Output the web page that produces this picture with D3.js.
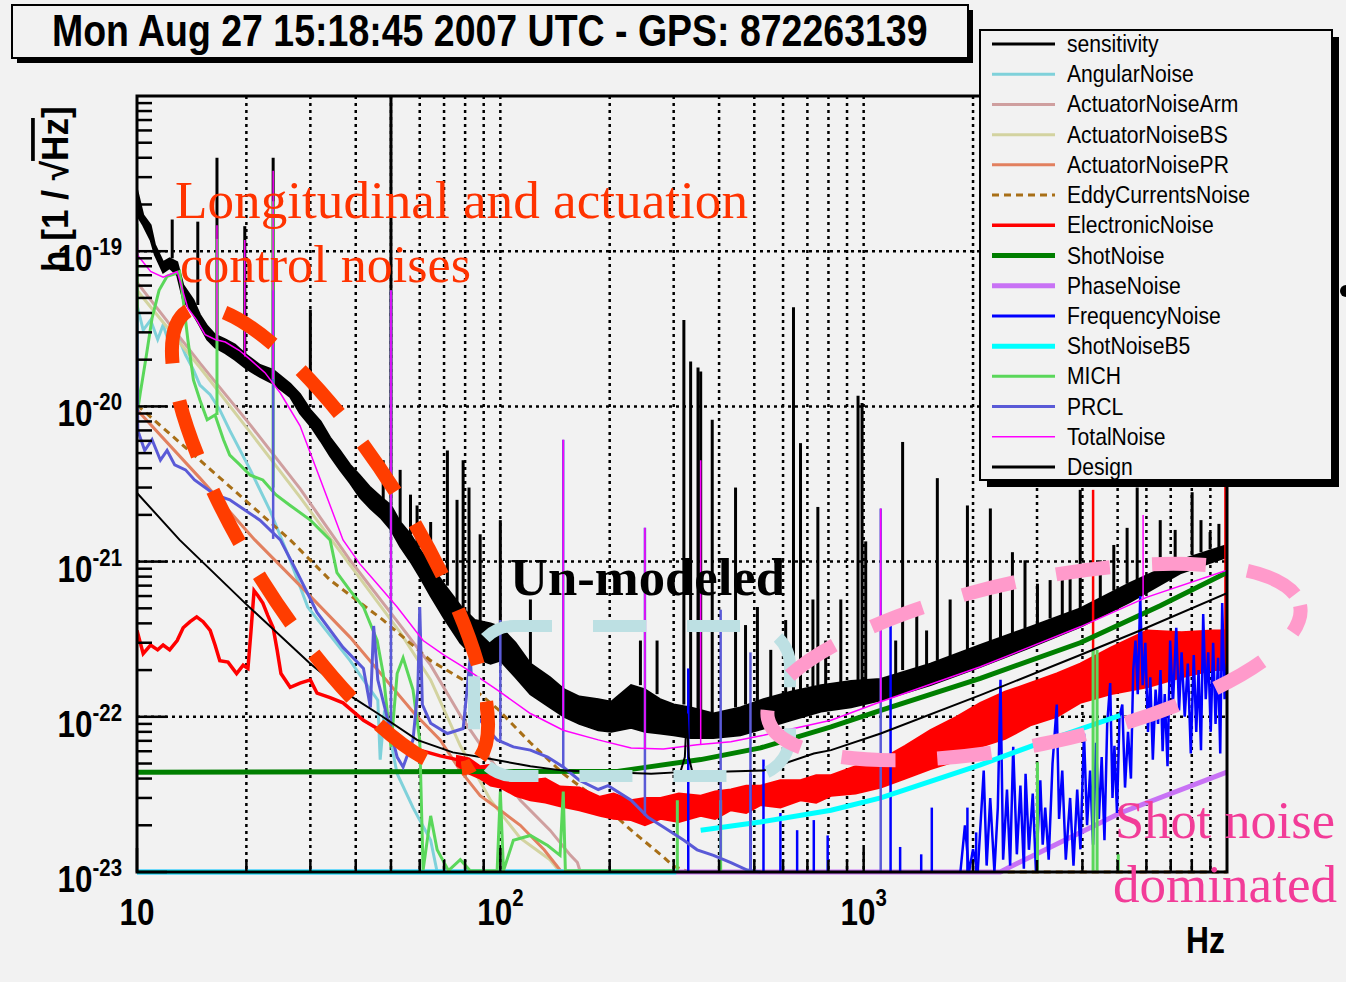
<!DOCTYPE html>
<html>
<head>
<meta charset="utf-8">
<script src="https://cdn.jsdelivr.net/npm/d3@7"></script>
<style>
  body { margin: 0; background: #f2f2f2; }
  svg { display: block; }
</style>
</head>
<body>
<div id="chart"></div>
<script>
// ---- data: [Hz, h] or [Hz, low, high] ----
const sensitivity = [
  [10, 1.71e-19, 2.5e-19], [10.4, 1.47e-19, 1.71e-19], [10.9, 1.18e-19, 1.47e-19], [11.2, 9.5e-20, 1.1e-19],
  [11.8, 7.3e-20, 8.5e-20], [12.3, 7.8e-20, 9.0e-20], [12.9, 7.0e-20, 8.5e-20], [13.4, 4.85e-20, 6.05e-20],
  [14.3, 3.9e-20, 4.85e-20], [14.9, 3.3e-20, 3.9e-20], [15.6, 2.7e-20, 3.3e-20], [16.4, 2.4e-20, 2.9e-20],
  [17.5, 2.2e-20, 2.7e-20], [18.6, 2.0e-20, 2.5e-20], [20, 1.75e-20, 2.15e-20], [21.8, 1.55e-20, 1.85e-20],
  [23.7, 1.4e-20, 1.72e-20], [26.4, 1.15e-20, 1.4e-20], [28.1, 9.0e-21, 1.2e-20], [30, 7.5e-21, 9.5e-21],
  [32, 6.0e-21, 8.0e-21], [34, 4.8e-21, 6.3e-21], [36.2, 3.9e-21, 5.2e-21], [38.6, 3.2e-21, 4.2e-21],
  [41, 2.6e-21, 3.6e-21], [43.9, 2.2e-21, 3.0e-21], [47, 1.9e-21, 2.6e-21], [50, 1.6e-21, 2.3e-21],
  [53, 1.25e-21, 1.8e-21], [56.6, 1.0e-21, 1.5e-21], [60, 8.0e-22, 1.2e-21], [64.3, 6.0e-22, 9.5e-22],
  [70.5, 4.2e-22, 7.0e-22], [77.6, 3.0e-22, 5.2e-22], [85, 2.4e-22, 4.2e-22], [94, 2.2e-22, 4.0e-22],
  [100, 2.3e-22, 3.8e-22], [110, 1.8e-22, 3.0e-22], [121, 1.4e-22, 2.2e-22], [137, 1.15e-22, 1.8e-22],
  [150, 1.0e-22, 1.5e-22], [165, 9.0e-23, 1.35e-22], [186, 8.2e-23, 1.3e-22], [202, 8.0e-23, 1.25e-22],
  [229, 8.5e-23, 1.6e-22], [250, 8.0e-23, 1.5e-22], [275, 7.8e-23, 1.3e-22], [300, 7.6e-23, 1.2e-22],
  [334, 7.3e-23, 1.15e-22], [386, 7.3e-23, 1.05e-22], [458, 7.6e-23, 1.15e-22], [530, 8.4e-23, 1.3e-22],
  [630, 9.5e-23, 1.45e-22], [763, 1.08e-22, 1.6e-22], [923, 1.15e-22, 1.7e-22], [1114, 1.28e-22, 1.75e-22],
  [1527, 1.6e-22, 2.2e-22], [2095, 2.1e-22, 2.9e-22], [2875, 2.8e-22, 3.8e-22], [3945, 3.8e-22, 5.0e-22],
  [5414, 5.5e-22, 7.3e-22], [7431, 8.4e-22, 1.02e-21], [10000, 1.07e-21, 1.28e-21]
];
// vertical lines: [Hz, from, to]
const sensitivitySpikes = [
  [12.5, 9.0e-20, 1.6e-19], [14.7, 4.5e-20, 1.55e-19], [16.6, 2.9e-20, 4.0e-19], [19.8, 2.2e-20, 1.45e-19],
  [23.7, 1.72e-20, 4.0e-19], [30, 1.1e-20, 4.2e-20], [50, 2.3e-21, 1e-18], [47.6, 2.5e-21, 4.5e-21],
  [53, 1.8e-21, 3.9e-21], [56.6, 1.5e-21, 2.7e-21], [59, 1.2e-21, 2.3e-21], [64.3, 9.5e-22, 1.8e-21],
  [71.5, 7.0e-22, 5.2e-21], [76, 5.5e-22, 2.5e-21], [79, 5.0e-22, 4.5e-21], [82, 4.5e-22, 3.0e-21],
  [88, 4.0e-22, 1.5e-21], [100, 3.8e-22, 1.85e-21], [121, 2.2e-22, 5.7e-22],
  [243, 1.6e-22, 3.1e-22], [270, 1.4e-22, 3.1e-22],
  [320, 1.2e-22, 3.6e-20], [334, 1.15e-22, 1.95e-20], [350, 1.1e-22, 1.78e-20], [356, 1.1e-22, 1.68e-20],
  [383, 1.05e-22, 8.2e-21], [444, 1.15e-22, 3.0e-21], [473, 1.2e-22, 3.9e-22], [510, 1.25e-22, 5.1e-22],
  [555, 1.3e-22, 2.7e-22], [610, 1.4e-22, 4.2e-22], [641, 1.45e-22, 4.35e-20], [670, 1.45e-22, 5.8e-21],
  [725, 1.55e-22, 5.7e-22], [748, 1.6e-22, 2.25e-21], [786, 1.6e-22, 3.1e-22], [865, 1.65e-22, 5.7e-22],
  [965, 1.7e-22, 1.17e-20], [990, 1.7e-22, 1.05e-20], [1013, 1.72e-22, 1.35e-21], [1225, 1.8e-22, 3.1e-22],
  [1280, 2.0e-22, 5.9e-21], [1400, 2.0e-22, 4.9e-22], [1490, 2.15e-22, 3.6e-22], [1595, 2.3e-22, 3.45e-21],
  [1730, 2.4e-22, 5.7e-22], [1930, 2.7e-22, 2.3e-21], [2232, 3.0e-22, 2.2e-21], [2380, 3.2e-22, 6.5e-22],
  [2567, 3.4e-22, 1.15e-21], [2780, 3.7e-22, 1.02e-21], [3008, 3.9e-22, 7.2e-22], [3260, 4.3e-22, 7.6e-22],
  [3521, 4.5e-22, 7.6e-22], [3700, 4.7e-22, 8.2e-22], [3945, 5.0e-22, 2.9e-21], [4480, 5.8e-22, 1.02e-21],
  [4880, 6.5e-22, 1.28e-21], [5310, 7.2e-22, 1.65e-21], [5660, 7.6e-22, 3.0e-21], [6550, 8.8e-22, 1.85e-21],
  [7200, 9.8e-22, 1.6e-21], [8017, 1.1e-21, 2.8e-21], [8480, 1.15e-21, 1.85e-21], [8985, 1.2e-21, 1.55e-21],
  [9500, 1.22e-21, 1.75e-21]
];
const angularNoise = [
  [10, 4.5e-20], [10.4, 3.1e-20], [10.9, 3.6e-20], [11.4, 2.7e-20], [11.8, 3.35e-20], [12.3, 2.5e-20],
  [12.9, 2.9e-20], [13.6, 2.15e-20], [14.3, 1.72e-20], [14.9, 1.37e-20], [15.9, 1.19e-20], [16.9, 9.5e-21],
  [18.0, 7.0e-21], [20.5, 3.9e-21], [23.2, 2.15e-21], [26.4, 1.02e-21], [29.5, 5.1e-22], [34, 3.35e-22],
  [38.6, 2.3e-22], [42, 1.73e-22], [46, 1.28e-22], [46.7, 5.3e-23], [48, 1.1e-22], [52, 4.3e-23],
  [57.5, 2.6e-23], [64.3, 1.6e-23], [67, 9.8e-24], [100, 9e-24]
];
const actuatorArm = [
  [10, 6.3e-20], [14.9, 1.9e-20], [20.5, 7.6e-21], [28.1, 2.95e-21], [38.6, 1.02e-21], [53, 3.9e-22],
  [64.3, 2.15e-22], [77.6, 1.02e-22], [94, 5.3e-23], [113.5, 2.9e-23], [137, 1.86e-23], [156, 1.28e-23],
  [163, 1.15e-23], [166, 9e-24]
];
const actuatorBS = [
  [10, 5.6e-20], [14.9, 1.78e-20], [20.5, 6.8e-21], [28.1, 2.6e-21], [38.6, 9.5e-22], [53, 3.5e-22],
  [64.3, 1.73e-22], [77.6, 6.5e-23], [94, 2.9e-23], [113.5, 1.65e-23], [137, 1.2e-23], [146, 9e-24]
];
const actuatorPR = [
  [10, 9.5e-21], [14.9, 3.45e-21], [21.1, 1.38e-21], [28.1, 7.0e-22], [38.6, 3.25e-22], [58, 1.05e-22],
  [68.3, 7.1e-23], [77.6, 4.5e-23], [88, 3.1e-23], [100, 2.5e-23], [113.5, 2.0e-23], [132, 1.39e-23],
  [146, 1.03e-23], [150, 9e-24]
];
const eddyCurrents = [
  [10, 1.02e-20], [14.9, 4.5e-21], [26.4, 1.38e-21], [34, 7.6e-22], [47.6, 4.2e-22], [64.3, 2.3e-22],
  [79, 1.73e-22], [98, 1.13e-22], [121, 6.8e-23], [149, 4.3e-23], [186, 2.9e-23], [229, 1.86e-23],
  [281, 1.25e-23], [300, 1.09e-23], [330, 9e-24], [10000, 9e-24]
];
const electronicLow = [
  [10, 3.6e-22], [10.4, 2.55e-22], [10.9, 2.9e-22], [11.4, 2.7e-22], [11.8, 2.9e-22], [12.3, 2.7e-22],
  [12.9, 3.1e-22], [13.4, 3.75e-22], [14.0, 4.1e-22], [14.6, 4.4e-22], [15.2, 4.1e-22], [15.9, 3.6e-22],
  [16.4, 2.9e-22], [16.9, 2.3e-22], [17.8, 2.25e-22], [18.8, 1.9e-22], [19.6, 2.15e-22], [20.2, 2.05e-22],
  [20.6, 3.6e-22], [21.0, 6.5e-22], [21.5, 6.05e-22], [22.2, 5.4e-22], [22.9, 4.5e-22], [23.7, 3.75e-22],
  [24.3, 2.7e-22], [24.9, 1.9e-22], [26.4, 1.55e-22], [28.1, 1.65e-22], [30, 1.73e-22], [31.3, 1.42e-22],
  [34, 1.33e-22], [36.9, 1.23e-22], [42, 9.5e-23], [46.7, 8.2e-23], [52, 7.1e-23], [60, 6.1e-23],
  [68.3, 5.6e-23], [76, 5.3e-23]
];
const electronicBand = [
  [76, 4.85e-23, 5.6e-23], [82, 4.3e-23, 5.4e-23], [88, 4.0e-23, 4.8e-23], [94, 3.6e-23, 4.9e-23],
  [100, 3.5e-23, 4.4e-23], [110, 3.1e-23, 4.4e-23], [121, 2.9e-23, 3.9e-23], [133, 2.8e-23, 4.0e-23],
  [146, 2.65e-23, 3.55e-23], [165, 2.5e-23, 3.5e-23], [188, 2.3e-23, 3.05e-23], [205, 2.2e-23, 3.2e-23],
  [229, 2.16e-23, 2.9e-23], [250, 2.0e-23, 3.0e-23], [276, 2.2e-23, 3.0e-23], [310, 2.1e-23, 3.2e-23],
  [356, 2.3e-23, 3.1e-23], [390, 2.2e-23, 3.3e-23], [431, 2.5e-23, 3.4e-23], [475, 2.4e-23, 3.6e-23],
  [520, 2.7e-23, 3.6e-23], [590, 2.6e-23, 3.9e-23], [670, 2.9e-23, 3.9e-23], [740, 2.8e-23, 4.2e-23],
  [813, 3.1e-23, 4.2e-23], [950, 3.2e-23, 4.8e-23], [1114, 3.5e-23, 5.3e-23], [1300, 4.0e-23, 6.5e-23],
  [1527, 4.6e-23, 8.2e-23], [1800, 5.2e-23, 1.0e-22], [2095, 6.4e-23, 1.23e-22], [2450, 7.2e-23, 1.45e-22],
  [2875, 8.8e-23, 1.65e-22], [3400, 1.0e-22, 1.9e-22], [3945, 1.23e-22, 2.2e-22], [4800, 1.4e-22, 2.8e-22],
  [6027, 1.55e-22, 3.6e-22], [7500, 1.8e-22, 3.5e-22], [9160, 2.0e-22, 3.6e-22], [10000, 2.0e-22, 3.6e-22]
];
const electronicSpikes = [[4280, 2.2e-22, 2.9e-21], [9900, 3.6e-22, 3.36e-21]];
const shotNoise = [
  [10, 4.4e-23], [210, 4.45e-23], [356, 5.3e-23], [520, 6.3e-23], [813, 8.6e-23], [1114, 1.1e-22],
  [2095, 1.77e-22], [3945, 3.0e-22], [6547, 5.2e-22], [10000, 8.5e-22]
];
const phaseNoise = [[10, 9e-24], [2378, 9e-24], [2533, 1.08e-23], [5082, 2.4e-23], [10000, 4.4e-23]];
const frequencyNoise = [
  [1846, 9e-24], [1900, 2.0e-23], [1950, 9e-24], [2000, 1.4e-23], [2060, 9e-24], [2140, 4.5e-23],
  [2180, 1.1e-23], [2230, 3.0e-23], [2290, 9e-24], [2340, 2.6e-23], [2380, 1.73e-22], [2420, 1.2e-23],
  [2480, 3.4e-23], [2530, 1.1e-23], [2580, 6.4e-23], [2640, 1.3e-23], [2700, 3.6e-23], [2760, 1.05e-23],
  [2790, 4.3e-23], [2850, 1.39e-23], [2920, 3.2e-23], [2980, 9e-24], [3063, 3.9e-23], [3110, 1.5e-23],
  [3160, 2.6e-23], [3230, 1.2e-23], [3310, 5.0e-23], [3400, 1.2e-22], [3450, 2.2e-23], [3520, 4.5e-23],
  [3600, 1.2e-23], [3700, 3.0e-23], [3780, 1.1e-23], [3870, 3.4e-23], [3950, 1.4e-23], [4040, 7.8e-23],
  [4120, 2.0e-23], [4200, 4.5e-23], [4280, 1.5e-23], [4360, 6.8e-23], [4440, 2.2e-23], [4520, 5.5e-23],
  [4600, 1.6e-23], [4680, 9.0e-23], [4770, 1.65e-22], [4840, 3.0e-23], [4900, 6.5e-23], [4980, 2.4e-23],
  [5060, 1.0e-22], [5150, 1.2e-22], [5240, 3.5e-23], [5340, 8.0e-23], [5440, 4.0e-23], [5520, 2.0e-22],
  [5600, 3.1e-22], [5680, 1.4e-22], [5770, 6.0e-22], [5860, 1.6e-22], [5960, 3.0e-22], [6060, 8.0e-23],
  [6150, 1.8e-22], [6250, 5.3e-23], [6360, 1.5e-22], [6460, 9.0e-23], [6560, 2.0e-22], [6650, 6.0e-23],
  [6740, 1.4e-22], [6860, 4.8e-23], [6975, 3.1e-22], [7100, 1.2e-22], [7250, 3.75e-22], [7380, 1.1e-22],
  [7500, 2.6e-22], [7650, 1.0e-22], [7800, 2.2e-22], [7950, 5.8e-23], [8100, 2.5e-22], [8230, 8.0e-23],
  [8350, 2.0e-22], [8480, 6.1e-23], [8600, 4.6e-22], [8740, 1.3e-22], [8880, 2.6e-22], [9020, 8.0e-23],
  [9160, 3.0e-22], [9300, 9.0e-23], [9450, 2.4e-22], [9580, 5.8e-23], [9700, 5.4e-22], [9850, 1.3e-22],
  [10000, 2.2e-22]
];
const frequencySpikes = [
  [329, 9e-24, 2.05e-22], [488, 9e-24, 4.3e-23], [530, 9e-24, 5.3e-23], [590, 9e-24, 2.4e-23],
  [656, 9e-24, 1.86e-23], [729, 9e-24, 2.16e-23], [796, 9e-24, 1.72e-23], [1186, 9e-24, 4.2e-22],
  [1260, 9e-24, 1.45e-23], [1440, 9e-24, 1.3e-23], [1540, 9e-24, 2.6e-23], [1930, 9e-24, 2.6e-23],
  [2040, 9e-24, 1.8e-23]
];
const shotNoiseB5 = [
  [10, 9.9e-24], [305, 9.9e-24], [330, null], [356, 1.86e-23], [520, 2.1e-23], [813, 2.5e-23],
  [1114, 3.0e-23], [2095, 4.9e-23], [3063, 6.8e-23], [5082, 1.02e-22]
];
const mich = [
  [10, 1.5e-19], [10.05, 9.5e-21], [10.2, 1.2e-20], [10.6, 2.1e-20], [11.0, 3.7e-20], [11.5, 5.6e-20],
  [12.1, 6.9e-20], [12.6, 7.1e-20], [13.1, 7.4e-20], [13.4, 4.85e-20], [13.8, 2.7e-20], [14.3, 1.48e-20],
  [14.9, 1.1e-20], [15.6, 8.2e-21], [16.4, 8.8e-21], [17.3, 6.1e-21], [18.0, 4.85e-21], [19.2, 4.2e-21],
  [20.5, 3.6e-21], [22.2, 3.36e-21], [24.1, 2.7e-21], [26.4, 2.3e-21], [30, 1.85e-21], [34, 1.38e-21],
  [35.5, 8.5e-22], [38.6, 6.5e-22], [42, 5.1e-22], [45.8, 3.1e-22], [47.6, 1.9e-22], [50, 6.4e-23],
  [52, 1.9e-22], [54, 2.4e-22], [57.5, 1.49e-22], [60, 7.1e-23], [61.3, 1.03e-23], [64.3, 2.3e-23],
  [67, 1.39e-23], [72, 1.02e-23], [77.6, 1.2e-23], [82.6, 1.02e-23], [98, 1.02e-23], [100, 3.3e-23],
  [102, 1.02e-23], [108.6, 1.6e-23], [121, 1.72e-23], [135, 1.48e-23], [146, 1.28e-23], [149, 3.3e-23],
  [151, 1.02e-23], [300, 1.02e-23]
];
const michSpikes = [
  [16.6, 8.8e-21, 1.2e-19], [23.7, 3.0e-21, 2.1e-19], [307, 1.02e-23, 2.9e-23], [404, 1.02e-23, 2.9e-23],
  [3008, 1.02e-23, 5.1e-23], [4280, 1.02e-23, 2.7e-22], [4390, 1.02e-23, 2.7e-22], [5020, 1.02e-23, 1.3e-23]
];
const prcl = [
  [10, 3.9e-20], [10.05, 7.0e-21], [10.5, 5.2e-21], [11.0, 6.1e-21], [11.6, 4.5e-21], [12.1, 5.2e-21],
  [12.7, 4.2e-21], [13.6, 3.9e-21], [14.4, 3.36e-21], [15.4, 3.0e-21], [16.4, 2.7e-21], [18.0, 2.5e-21],
  [19.8, 2.15e-21], [21.8, 1.85e-21], [24.8, 1.38e-21], [27.6, 8.5e-22], [31.3, 4.7e-22], [36.9, 2.8e-22],
  [42, 2.05e-22], [43.9, 1.15e-22], [44.8, 3.85e-22], [46, 1.73e-22], [52, 5.5e-23], [54, 4.75e-23],
  [57.5, 7.1e-23], [59.3, 1.5e-22], [60, 5.1e-22], [61, 1.2e-22], [64.3, 9.1e-23], [71.5, 7.8e-23],
  [79, 8.4e-23], [82.6, 2.4e-22], [85, 8.8e-23], [88, 9.5e-23], [98, 7.1e-23], [108.6, 6.4e-23],
  [121, 6.1e-23], [135, 5.5e-23], [149, 4.75e-23], [165, 3.9e-23], [186, 3.4e-23], [198, 3.6e-23],
  [229, 2.9e-23], [255, 2.25e-23], [281, 1.95e-23], [320, 1.6e-23], [348, 1.39e-23], [386, 1.28e-23],
  [431, 1.15e-23], [478, 1.03e-23], [520, 9e-24]
];
const prclSpikes = [
  [23.7, 1.4e-21, 5.6e-20], [50, 7.0e-23, 5.6e-20], [100, 7.1e-23, 4.2e-22], [149, 4.75e-23, 6.1e-21],
  [250, 2.3e-23, 1.65e-21], [404, 1.25e-23, 4.9e-22], [488, 1.03e-23, 2.6e-22], [1114, 9e-24, 2.2e-21]
];
const totalNoise = [
  [10, 1.93e-19], [10.05, 9.4e-20], [10.9, 7.4e-20], [11.8, 6.8e-20], [12.9, 7.4e-20], [13.8, 4.3e-20],
  [14.6, 3.6e-20], [15.4, 2.9e-20], [16.4, 2.7e-20], [17.5, 2.6e-20], [19.1, 2.3e-20], [20.5, 2.0e-20],
  [22.5, 1.65e-20], [24.8, 1.22e-20], [28.1, 7.5e-21], [32, 3.36e-21], [36.9, 1.38e-21], [41, 9.7e-22],
  [45.8, 7.2e-22], [52, 5.1e-22], [61.3, 3.1e-22], [70, 2.5e-22], [79, 2.1e-22], [98, 1.49e-22],
  [121, 1.05e-22], [149, 8.2e-23], [186, 7.1e-23], [229, 6.3e-23], [281, 6.2e-23], [348, 6.6e-23],
  [431, 6.9e-23], [530, 7.6e-23], [656, 8.5e-23], [813, 9.5e-23], [1114, 1.25e-22], [2095, 2.1e-22],
  [3945, 3.8e-22], [6027, 5.9e-22], [10000, 8.8e-22]
];
const totalSpikes = [
  [16.6, 2.7e-20, 1.47e-19], [19.8, 2.1e-20, 1.18e-19], [23.7, 1.5e-20, 3.3e-19], [50, 5.7e-22, 5.6e-20],
  [149, 8.2e-23, 6.1e-21], [250, 6.3e-23, 1.65e-21], [356, 6.6e-23, 4.5e-21], [1114, 1.25e-22, 2.2e-21],
  [5876, 5.8e-22, 2.0e-21]
];
const design = [
  [10, 2.77e-21], [13.1, 1.38e-21], [20, 5.3e-22], [30, 2.2e-22], [38, 1.4e-22], [46, 1.05e-22],
  [59, 7.1e-23], [74, 5.9e-23], [88, 5.5e-23], [121, 4.8e-23], [149, 4.5e-23], [202, 4.4e-23],
  [260, 4.3e-23], [313, 4.4e-23], [322, 5.5e-23], [326, 1.05e-22], [330, 5.5e-23], [337, 4.5e-23],
  [356, 4.4e-23], [530, 4.5e-23], [729, 5.8e-23], [813, 6.1e-23], [1114, 7.8e-23], [2095, 1.38e-22],
  [3945, 2.5e-22], [5768, 3.6e-22], [10000, 6.25e-22]
];

const legendNames = ["sensitivity", "AngularNoise", "ActuatorNoiseArm", "ActuatorNoiseBS", "ActuatorNoisePR",
  "EddyCurrentsNoise", "ElectronicNoise", "ShotNoise", "PhaseNoise", "FrequencyNoise", "ShotNoiseB5",
  "MICH", "PRCL", "TotalNoise", "Design"];
const xTickValues = [10, 100, 1000];
const yTickExponents = [-23, -22, -21, -20, -19];
const titleText = "Mon Aug 27 15:18:45 2007 UTC - GPS: 872263139";

const styles = {
  sensitivity: {color: "#000000", width: 2.5},
  AngularNoise: {color: "#7fd1da", width: 3},
  ActuatorNoiseArm: {color: "#cf9f9f", width: 3},
  ActuatorNoiseBS: {color: "#d3d3a0", width: 3},
  ActuatorNoisePR: {color: "#e2805f", width: 3},
  EddyCurrentsNoise: {color: "#a86f17", width: 3, dash: "7,5"},
  ElectronicNoise: {color: "#ff0000", width: 3.5},
  ShotNoise: {color: "#007f00", width: 5},
  PhaseNoise: {color: "#c872f5", width: 5},
  FrequencyNoise: {color: "#0000ff", width: 2.5},
  ShotNoiseB5: {color: "#00ffff", width: 5},
  MICH: {color: "#5ad75a", width: 3},
  PRCL: {color: "#5a5ad7", width: 3},
  TotalNoise: {color: "#ff00ff", width: 1.5},
  Design: {color: "#000000", width: 2}
};

// ---- setup ----
const svg = d3.select("#chart").append("svg").attr("width", 1346).attr("height", 982);
svg.append("rect").attr("width", 1346).attr("height", 982).attr("fill", "#f2f2f2");

const x = d3.scaleLog().domain([10, 10000]).range([137, 1227]);
const y = d3.scaleLog().domain([1e-23, 1e-18]).range([872, 96]).clamp(true);

svg.append("clipPath").attr("id", "plotclip")
  .append("rect").attr("x", 137).attr("y", 94).attr("width", 1090).attr("height", 781);

// grid
const grid = svg.append("g");
const vGrid = [];
[10, 100, 1000].forEach(d => { for (let m = 1; m <= 9; m++) if (d * m > 10 && d * m < 10000) vGrid.push(d * m); });
grid.selectAll(".vg").data(vGrid).enter().append("line")
  .attr("x1", d => x(d)).attr("x2", d => x(d)).attr("y1", 96).attr("y2", 872)
  .attr("stroke", "#000").attr("stroke-width", 2.5).attr("stroke-dasharray", "3,4");
grid.selectAll(".hg").data([-22, -21, -20, -19]).enter().append("line")
  .attr("x1", 137).attr("x2", 1227).attr("y1", d => y(Math.pow(10, d))).attr("y2", d => y(Math.pow(10, d)))
  .attr("stroke", "#000").attr("stroke-width", 2.5).attr("stroke-dasharray", "3,4");

// data layer
const plot = svg.append("g").attr("clip-path", "url(#plotclip)");
const line = d3.line().defined(d => d[1] != null).x(d => x(d[0])).y(d => y(d[1]));
const band = d3.area().x(d => x(d[0])).y0(d => y(d[1])).y1(d => y(d[2]));

function drawLine(data, name) {
  const s = styles[name];
  plot.append("path").datum(data).attr("d", line).attr("fill", "none")
    .attr("stroke", s.color).attr("stroke-width", s.width)
    .attr("stroke-dasharray", s.dash || null).attr("stroke-linejoin", "miter");
}
function drawBand(data, name) {
  const s = styles[name];
  plot.append("path").datum(data).attr("d", band).attr("fill", s.color)
    .attr("stroke", s.color).attr("stroke-width", 2);
}
function drawSpikes(data, name, w) {
  const s = styles[name];
  plot.append("g").selectAll("line").data(data).enter().append("line")
    .attr("x1", d => x(d[0])).attr("x2", d => x(d[0]))
    .attr("y1", d => y(d[1])).attr("y2", d => y(d[2]))
    .attr("stroke", s.color).attr("stroke-width", w || s.width);
}

drawBand(sensitivity, "sensitivity");
drawSpikes(sensitivitySpikes, "sensitivity", 3);
drawLine(angularNoise, "AngularNoise");
drawLine(actuatorArm, "ActuatorNoiseArm");
drawLine(actuatorBS, "ActuatorNoiseBS");
drawLine(actuatorPR, "ActuatorNoisePR");
drawLine(eddyCurrents, "EddyCurrentsNoise");
drawLine(electronicLow, "ElectronicNoise");
drawBand(electronicBand, "ElectronicNoise");
drawSpikes(electronicSpikes, "ElectronicNoise", 2.5);
drawLine(shotNoise, "ShotNoise");
drawLine(phaseNoise, "PhaseNoise");
drawSpikes(frequencySpikes, "FrequencyNoise", 2.5);
drawLine(frequencyNoise, "FrequencyNoise");
drawLine(shotNoiseB5, "ShotNoiseB5");
drawLine(mich, "MICH");
drawSpikes(michSpikes, "MICH", 3);
drawLine(prcl, "PRCL");
drawSpikes(prclSpikes, "PRCL", 2.5);
drawLine(totalNoise, "TotalNoise");
drawSpikes(totalSpikes, "TotalNoise", 1.5);
drawLine(design, "Design");

// frame and ticks
const axes = svg.append("g");
axes.append("rect").attr("x", 137).attr("y", 96).attr("width", 1090).attr("height", 776)
  .attr("fill", "none").attr("stroke", "#000").attr("stroke-width", 3);
const yTicks = [];
for (let e = -23; e < -18; e++) for (let m = 1; m <= 9; m++) yTicks.push({v: m * Math.pow(10, e), major: m === 1});
axes.selectAll(".yt").data(yTicks).enter().append("line")
  .attr("x1", 137).attr("x2", d => 137 + (d.major ? 30 : 15))
  .attr("y1", d => y(d.v)).attr("y2", d => y(d.v)).attr("stroke", "#000").attr("stroke-width", 2.5);
const xTicks = [];
[10, 100, 1000].forEach(d => { for (let m = 1; m <= 9; m++) xTicks.push({v: d * m, major: m === 1}); });
axes.selectAll(".xt").data(xTicks).enter().append("line")
  .attr("x1", d => x(d.v)).attr("x2", d => x(d.v))
  .attr("y1", 872).attr("y2", d => 872 - (d.major ? 24 : 12)).attr("stroke", "#000").attr("stroke-width", 2.5);

// tick labels
const font = "'Liberation Sans', Arial, sans-serif";
yTickExponents.forEach(e => {
  const yy = y(Math.pow(10, e));
  const g = axes.append("g").attr("transform", `translate(122,${yy + 20}) scale(0.85,1)`);
  const t = g.append("text").attr("text-anchor", "end").attr("font-family", font)
    .attr("font-weight", "bold").attr("font-size", 37).attr("fill", "#000");
  t.append("tspan").text("10");
  t.append("tspan").attr("font-size", 24).attr("dy", -16).text(e);
});
xTickValues.forEach(v => {
  const k = Math.round(Math.log10(v));
  const g = axes.append("g").attr("transform", `translate(${x(v)},925) scale(0.85,1)`);
  const t = g.append("text").attr("text-anchor", "middle").attr("font-family", font)
    .attr("font-weight", "bold").attr("font-size", 37).attr("fill", "#000");
  t.append("tspan").text("10");
  if (k > 1) t.append("tspan").attr("font-size", 24).attr("dy", -19).text(k);
});
axes.append("g").attr("transform", "translate(1225,953) scale(0.86,1)")
  .append("text").attr("text-anchor", "end")
  .attr("font-family", font).attr("font-weight", "bold").attr("font-size", 37).text("Hz");
const yTitle = axes.append("g").attr("transform", "translate(68,272) rotate(-90) scale(0.95,1)")
  .append("text").attr("font-family", font).attr("font-weight", "bold").attr("font-size", 37);
yTitle.append("tspan").text("h [1 / √");
yTitle.append("tspan").style("text-decoration", "overline").text("Hz");
yTitle.append("tspan").text("]");

// annotations
const notes = svg.append("g");
notes.append("ellipse").attr("cx", 0).attr("cy", 0).attr("rx", 268).attr("ry", 80)
  .attr("transform", "translate(330,538) rotate(57.8)")
  .attr("fill", "none").attr("stroke", "#ff3d00").attr("stroke-width", 14)
  .attr("stroke-dasharray", "58,38").attr("stroke-dashoffset", 46);
notes.append("rect").attr("x", 474).attr("y", 626).attr("width", 316).attr("height", 150).attr("rx", 40)
  .attr("fill", "none").attr("stroke", "#bde0e3").attr("stroke-width", 12)
  .attr("stroke-dasharray", "53,41").attr("stroke-dashoffset", 15);
notes.append("ellipse").attr("cx", 0).attr("cy", 0).attr("rx", 272).attr("ry", 82)
  .attr("transform", "translate(1034,662) rotate(-12)")
  .attr("fill", "none").attr("stroke", "#ff9acb").attr("stroke-width", 14)
  .attr("stroke-dasharray", "54,42").attr("stroke-dashoffset", 25);
const serif = "'Liberation Serif', 'Times New Roman', serif";
function note(txt, x0, y0, len, color, bold) {
  notes.append("text").attr("x", x0).attr("y", y0).attr("font-family", serif).attr("font-size", 52)
    .attr("font-weight", bold ? "bold" : "normal").attr("fill", color)
    .attr("textLength", len).attr("lengthAdjust", "spacingAndGlyphs").text(txt);
}
note("Longitudinal and actuation", 175, 218, 573, "#ff3300");
note("control noises", 180, 282, 291, "#ff3300");
note("Un-modeled", 510, 595, 275, "#000", true);
note("Shot noise", 1115, 838, 220, "#f23c98");
note("dominated", 1113, 902, 224, "#f23c98");

// legend
const leg = svg.append("g");
leg.append("rect").attr("x", 987).attr("y", 37).attr("width", 352).attr("height", 450).attr("fill", "#000");
leg.append("rect").attr("x", 980).attr("y", 30).attr("width", 352).attr("height", 450)
  .attr("fill", "#f2f2f2").attr("stroke", "#000").attr("stroke-width", 2);
leg.append("circle").attr("cx", 1346).attr("cy", 291).attr("r", 6).attr("fill", "#000");
const ly = d3.scaleLinear().domain([0, legendNames.length - 1]).range([44, 467]);
legendNames.forEach((name, i) => {
  const s = styles[name];
  leg.append("line").attr("x1", 992).attr("x2", 1055).attr("y1", ly(i)).attr("y2", ly(i))
    .attr("stroke", s.color).attr("stroke-width", s.width === 1.5 ? 1.5 : Math.max(s.width, 3))
    .attr("stroke-dasharray", s.dash || null);
  leg.append("g").attr("transform", `translate(1067,${ly(i) + 8}) scale(0.88,1)`)
    .append("text").attr("font-family", font).attr("font-size", 24).attr("fill", "#000").text(name);
});

// title
const head = svg.append("g");
head.append("rect").attr("x", 17).attr("y", 10).attr("width", 956).attr("height", 53).attr("fill", "#000");
head.append("rect").attr("x", 12).attr("y", 5).attr("width", 956).attr("height", 53)
  .attr("fill", "#f2f2f2").attr("stroke", "#000").attr("stroke-width", 2);
head.append("g").attr("transform", "translate(52,46) scale(0.852,1)")
  .append("text").attr("font-family", font).attr("font-weight", "bold")
  .attr("font-size", 44).text(titleText);
</script>
</body>
</html>
